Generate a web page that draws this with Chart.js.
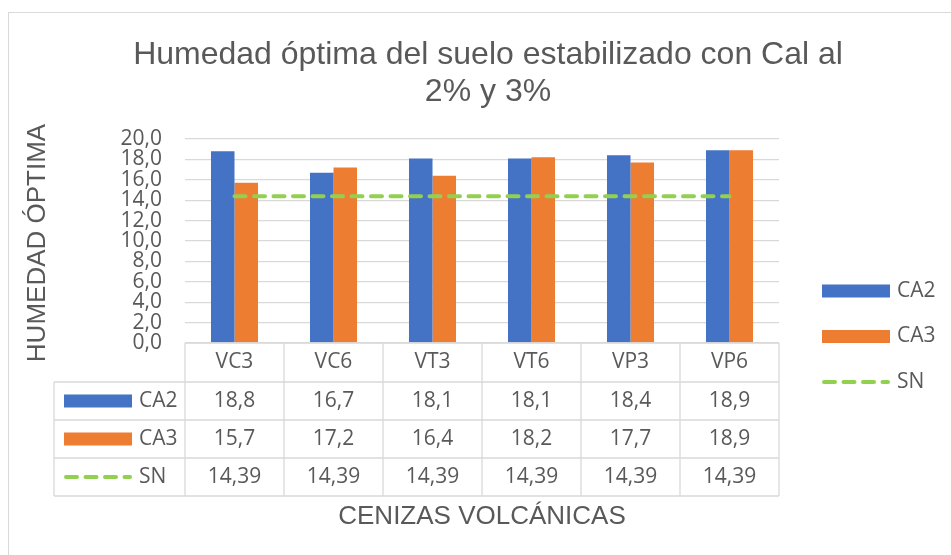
<!DOCTYPE html>
<html lang="es">
<head>
<meta charset="utf-8">
<title>Humedad óptima</title>
<script src="https://cdn.jsdelivr.net/npm/chart.js@4/dist/chart.umd.min.js"></script>
<style>
  html, body { margin: 0; padding: 0; background: #ffffff; }
  canvas { display: block; }
</style>
</head>
<body>
<canvas id="chart" width="951" height="555"></canvas>
<script>
// Ash samples and the two lime dosages (2 % and 3 %) plus the reference value SN
const categories = ['VC3', 'VC6', 'VT3', 'VT6', 'VP3', 'VP6'];
const ca2 = [18.8, 16.7, 18.1, 18.1, 18.4, 18.9];
const ca3 = [15.7, 17.2, 16.4, 18.2, 17.7, 18.9];
const sn = [14.39, 14.39, 14.39, 14.39, 14.39, 14.39];
const seriesNames = ['CA2', 'CA3', 'SN'];
const yTicks = { min: 0, max: 20, step: 2 };

const titleLines = ['Humedad óptima del suelo estabilizado con Cal al', '2% y 3%'];
const yTitle = 'HUMEDAD ÓPTIMA';
const xTitle = 'CENIZAS VOLCÁNICAS';

const BLUE = '#4472c4';
const ORANGE = '#ed7d31';
const GREEN = '#92d050';
const TEXT = '#595959';
const LINE = '#d9d9d9';
const NUM_SIZE = 21;
const NUM_FONT = NUM_SIZE + 'px "Open Sans", sans-serif';
const HEAD_FONT = '"Liberation Sans", Arial, sans-serif';

const fmt = v => String(v).replace('.', ',');

// Frame, titles, data table and legend drawn around the chart area
const decorations = {
  id: 'decorations',
  beforeDraw(chart) {
    const ctx = chart.ctx;
    ctx.save();
    ctx.fillStyle = '#ffffff';
    ctx.fillRect(0, 0, chart.width, chart.height);
    ctx.strokeStyle = LINE;
    ctx.lineWidth = 1;
    ctx.strokeRect(8.5, 12.5, chart.width + 20, chart.height + 20);
    ctx.restore();
  },
  afterDraw(chart) {
    const ctx = chart.ctx;
    const x = chart.scales.x;
    const area = chart.chartArea;
    const datasets = chart.data.datasets;
    ctx.save();

    // Title
    ctx.fillStyle = TEXT;
    ctx.textAlign = 'center';
    ctx.textBaseline = 'middle';
    ctx.font = '32px ' + HEAD_FONT;
    titleLines.forEach((t, i) => ctx.fillText(t, 488, 55 + i * 37));

    // Axis titles
    ctx.font = '26px ' + HEAD_FONT;
    ctx.fillText(xTitle, 482, 517);
    ctx.save();
    ctx.translate(38, 243);
    ctx.rotate(-Math.PI / 2);
    ctx.fillText(yTitle, 0, 0);
    ctx.restore();

    // Data table under the plot
    const colW = (area.right - area.left) / categories.length;
    const tableLeft = 54;
    const rows = [area.bottom, 382, 420, 458, 496];
    ctx.strokeStyle = LINE;
    ctx.lineWidth = 1.3;
    ctx.beginPath();
    ctx.moveTo(area.left, rows[0]);
    ctx.lineTo(area.right, rows[0]);
    for (let r = 1; r < rows.length; r++) {
      ctx.moveTo(tableLeft, rows[r]);
      ctx.lineTo(area.right, rows[r]);
    }
    ctx.moveTo(tableLeft, rows[1]);
    ctx.lineTo(tableLeft, rows[4]);
    for (let c = 0; c <= categories.length; c++) {
      const cx = area.left + c * colW;
      ctx.moveTo(cx, rows[0]);
      ctx.lineTo(cx, rows[4]);
    }
    ctx.stroke();

    ctx.font = NUM_FONT;
    ctx.fillStyle = TEXT;
    ctx.textAlign = 'center';
    categories.forEach((cat, i) => {
      const cx = x.getPixelForValue(i);
      ctx.fillText(cat, cx, (rows[0] + rows[1]) / 2);
      datasets.forEach((ds, d) => {
        ctx.fillText(fmt(ds.data[i]), cx, (rows[d + 1] + rows[d + 2]) / 2);
      });
    });

    // Legend keys inside the table
    datasets.forEach((ds, d) => {
      const cy = (rows[d + 1] + rows[d + 2]) / 2;
      drawKey(ctx, ds, 64, 132, cy);
      ctx.fillStyle = TEXT;
      ctx.textAlign = 'left';
      ctx.fillText(ds.label, 139, cy);
    });

    // Legend on the right
    datasets.forEach((ds, d) => {
      const cy = 291 + d * 45.5;
      drawKey(ctx, ds, 822, 890, cy);
      ctx.fillStyle = TEXT;
      ctx.textAlign = 'left';
      ctx.fillText(ds.label, 897, cy);
    });

    ctx.restore();
  }
};

function drawKey(ctx, ds, x0, x1, cy) {
  ctx.save();
  if (ds.type === 'line') {
    ctx.strokeStyle = ds.borderColor;
    ctx.lineWidth = ds.borderWidth;
    ctx.lineCap = 'round';
    ctx.setLineDash(ds.borderDash);
    ctx.beginPath();
    ctx.moveTo(x0 + 2, cy);
    ctx.lineTo(x1 - 2, cy);
    ctx.stroke();
  } else {
    ctx.fillStyle = ds.backgroundColor;
    ctx.fillRect(x0, cy - 6.5, x1 - x0, 13);
  }
  ctx.restore();
}

new Chart(document.getElementById('chart'), {
  type: 'bar',
  data: {
    labels: categories,
    datasets: [
      { label: seriesNames[0], data: ca2, backgroundColor: BLUE, order: 2 },
      { label: seriesNames[1], data: ca3, backgroundColor: ORANGE, order: 2 },
      {
        type: 'line', label: seriesNames[2], data: sn,
        borderColor: GREEN, borderWidth: 4, borderDash: [11, 8.5],
        borderCapStyle: 'round', pointRadius: 0, fill: false, order: 1
      }
    ]
  },
  options: {
    responsive: false,
    animation: false,
    devicePixelRatio: 1,
    categoryPercentage: 0.475,
    barPercentage: 1,
    layout: { padding: { left: 0, top: 139, right: 172, bottom: 212 } },
    plugins: { legend: { display: false }, title: { display: false }, tooltip: { enabled: false } },
    scales: {
      x: { display: false, offset: true },
      y: {
        min: yTicks.min, max: yTicks.max,
        afterFit(scale) { scale.width = 185; },
        border: { display: false },
        grid: { color: LINE, lineWidth: 1.3, drawTicks: false },
        ticks: {
          stepSize: yTicks.step,
          autoSkip: false,
          padding: 23,
          color: TEXT,
          font: { family: '"Open Sans", sans-serif', size: NUM_SIZE, lineHeight: 1 },
          callback: v => v.toFixed(1).replace('.', ',')
        }
      }
    }
  },
  plugins: [decorations]
});
</script>
</body>
</html>
